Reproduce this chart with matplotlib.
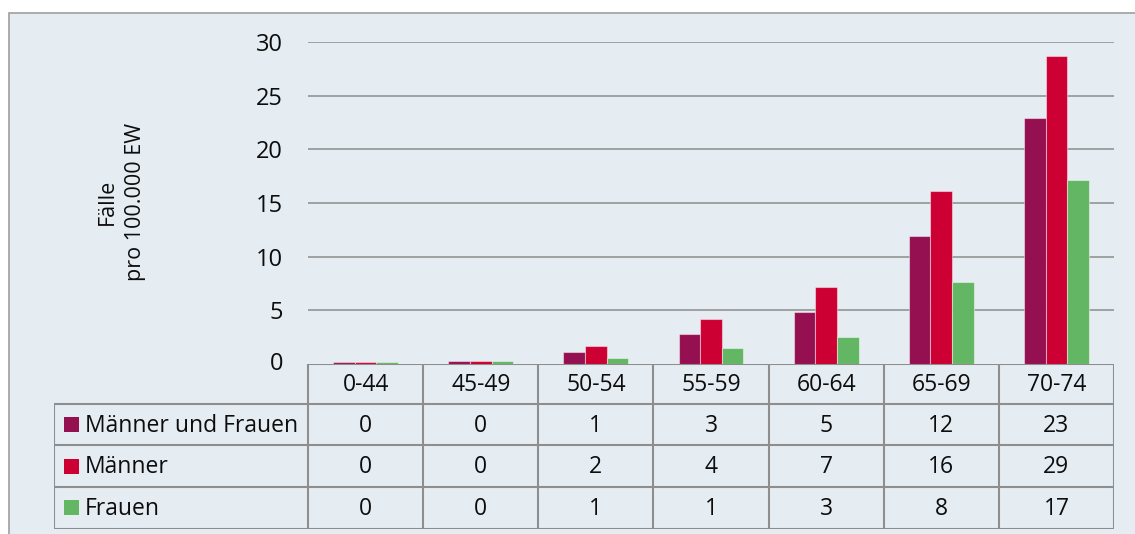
import numpy as np
import matplotlib
matplotlib.use('Agg')
import matplotlib.pyplot as plt
from matplotlib.patches import Rectangle

plt.rcParams['font.family'] = ['Open Sans', 'DejaVu Sans']

# age groups and incidence per 100,000 inhabitants
groups = ['0-44', '45-49', '50-54', '55-59', '60-64', '65-69', '70-74']
series = ['Männer und Frauen', 'Männer', 'Frauen']
total = [0.2, 0.3, 1.08, 2.80, 4.80, 11.9, 22.9]
men = [0.2, 0.3, 1.64, 4.16, 7.22, 16.1, 28.7]
women = [0.2, 0.3, 0.56, 1.46, 2.52, 7.62, 17.1]
colors = ['#951050', '#cc0033', '#63b663']

W, H = 1135, 534
bg = '#e5edf3'
line_c = '#8e8e8e'
txt_c = '#0d0d0d'

fig = plt.figure(figsize=(W / 100, H / 100), dpi=100)
fig.patch.set_facecolor('white')
fig.add_artist(Rectangle((8.5 / W, -0.01), 1.0, (H - 12.5) / H + 0.01,
                         transform=fig.transFigure, facecolor=bg,
                         edgecolor='#a6a6a6', linewidth=1.3, zorder=0))

# chart area
x0, x1 = 308, 1114
y_top, y_base = 42, 364
ax = fig.add_axes([x0 / W, (H - y_base) / H, (x1 - x0) / W, (y_base - y_top) / H])
ax.set_facecolor('none')
x = np.arange(len(groups))
w = 0.188
for k, (vals, c) in enumerate(zip([total, men, women], colors)):
    ax.bar(x + (k - 1) * w, vals, width=w, color=c,
           edgecolor=(1, 1, 1, 0.45), linewidth=0.8, zorder=3)
ax.set_xlim(-0.5, len(groups) - 0.5)
ax.set_ylim(0, 30)
ax.set_yticks(range(5, 31, 5))
ax.set_xticks([])
ax.yaxis.grid(True, color='#a0a0a0', linewidth=1.4)
ax.set_axisbelow(True)
for s in ax.spines.values():
    s.set_visible(False)
ax.tick_params(axis='y', length=0, pad=18, labelsize=17, labelcolor=txt_c)

cat_px = (x1 - x0) / len(groups)
# the zero label sits left of the table header
ax.text(-0.5 - 25 / cat_px, 0, '0', ha='right', va='center',
        fontsize=17, color=txt_c)

fig.text(121 / W, 1 - 202 / H, 'Fälle\npro 100.000 EW', rotation=90,
         ha='center', va='center', multialignment='center',
         linespacing=1.45, fontsize=15.5, color=txt_c)

# data table under the chart
t_left = -0.5 - (x0 - 54) / cat_px
tab = fig.add_axes([54 / W, (H - 528.5) / H, (x1 - 54) / W, (528.5 - y_base) / H])
tab.set_facecolor('none')
tab.axis('off')
hdr = 0.95
nrows = len(series)
tab.set_xlim(t_left, len(groups) - 0.5)
tab.set_ylim(hdr + nrows, 0)

lk = dict(color=line_c, linewidth=1.5, solid_capstyle='projecting')
tab.plot([-0.5, len(groups) - 0.5], [0, 0], **lk)
for r in range(nrows + 1):
    tab.plot([t_left, len(groups) - 0.5], [hdr + r, hdr + r], **lk)
for i in range(len(groups) + 1):
    tab.plot([i - 0.5, i - 0.5], [0, hdr + nrows], **lk)
tab.plot([t_left, t_left], [hdr, hdr + nrows], **lk)

fs = 16.5
for i, g in enumerate(groups):
    tab.text(i, hdr / 2 + 0.03, g, ha='center', va='center', fontsize=fs, color=txt_c)
for r, (name, vals, c) in enumerate(zip(series, [total, men, women], colors)):
    yc = hdr + r + 0.5
    tab.add_patch(Rectangle((t_left + 10 / cat_px, yc - 0.18), 15 / cat_px, 0.36,
                            facecolor=c, edgecolor='none'))
    tab.text(t_left + 31 / cat_px, yc + 0.03, name, ha='left', va='center',
             fontsize=fs, color=txt_c)
    for i, v in enumerate(vals):
        tab.text(i, yc + 0.03, f'{v:.0f}', ha='center', va='center',
                 fontsize=fs, color=txt_c)

fig.savefig('out.png', dpi=100, facecolor=fig.get_facecolor())
